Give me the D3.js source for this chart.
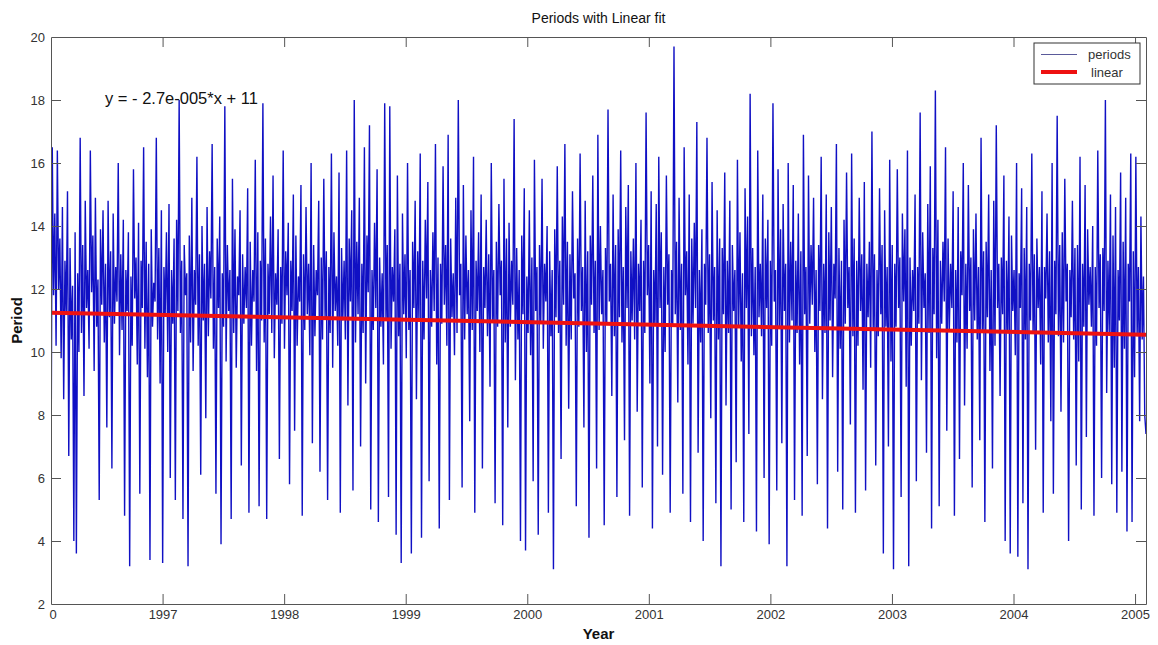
<!DOCTYPE html>
<html>
<head>
<meta charset="utf-8">
<script src="https://cdn.jsdelivr.net/npm/d3@7"></script>
<style>
  body { margin: 0; background: #fff; }
  text { font-family: "Liberation Sans", Arial, sans-serif; }
</style>
</head>
<body>
<script>
// period values left to right (evenly spaced in time)
var periods = [
  5.7,16.5,11.8,14.4,10.2,16.4,12.0,13.6,9.8,14.6,8.5,12.9,11.2,15.1,6.7,13.3,10.4,12.1,4.0,13.8,3.6,12.5,10.0,16.8,
  10.6,13.4,8.6,14.8,11.4,12.6,10.1,16.4,11.9,13.7,9.4,14.9,10.8,12.3,5.3,13.9,11.5,14.5,10.3,12.8,7.6,14.8,11.1,13.2,
  6.3,14.4,10.9,12.7,11.6,16.0,9.9,13.1,10.7,14.2,4.8,12.6,11.3,13.8,3.2,12.4,10.2,15.8,11.7,13.0,9.6,14.1,5.5,12.9,
  11.4,16.5,10.1,13.5,9.2,12.8,3.4,13.9,10.8,12.2,11.6,16.8,10.4,13.3,9.0,14.5,3.3,12.7,11.2,13.8,10.0,14.7,6.0,12.6,
  10.9,13.6,5.3,14.2,11.3,18.0,10.6,12.9,4.7,13.4,11.8,12.5,3.2,13.7,10.3,14.9,9.4,12.6,11.5,16.2,10.2,13.1,6.1,14.0,
  11.0,12.8,7.9,14.6,10.5,13.2,11.7,16.6,10.1,12.7,5.5,13.6,11.4,14.3,3.9,12.5,10.8,17.8,9.7,13.4,11.3,12.6,4.7,15.5,
  10.6,13.9,9.5,12.4,11.8,14.5,6.4,13.1,10.9,12.7,11.4,15.2,4.9,13.5,10.2,12.6,11.6,16.1,9.4,13.8,5.1,12.9,11.0,17.9,
  10.3,13.6,4.7,12.8,11.2,14.3,10.6,15.6,9.8,12.5,11.5,13.9,6.6,12.7,10.9,16.4,10.1,13.2,11.8,14.1,5.8,12.9,11.3,15.0,
  7.5,13.7,10.2,12.4,11.6,15.3,4.8,13.1,10.7,14.6,11.2,12.8,9.9,16.0,7.1,13.4,10.5,12.6,11.8,14.8,6.2,13.0,10.4,15.5,
  11.1,13.2,5.3,12.7,10.6,16.3,9.5,13.8,11.3,12.4,10.2,15.7,4.9,13.3,11.0,12.9,10.4,16.4,8.3,13.6,11.6,14.5,5.6,18.0,
  10.3,13.5,11.2,14.9,7.0,12.8,10.6,16.5,9.0,13.7,11.9,17.2,5.0,12.6,10.7,14.1,11.4,15.8,4.6,13.0,10.8,12.5,9.6,17.9,
  11.0,13.4,5.4,17.8,10.1,12.7,11.6,13.9,4.2,15.6,10.5,12.8,3.3,14.4,11.2,13.1,9.8,16.0,10.7,12.6,3.6,13.5,11.4,14.8,
  8.5,13.2,11.0,16.3,4.1,12.9,10.4,14.2,11.7,15.4,5.9,12.6,10.8,13.8,11.3,16.6,9.6,13.0,4.4,12.8,10.9,15.9,11.5,13.4,
  10.2,16.9,5.3,13.6,11.1,12.5,9.9,14.9,10.6,18.0,11.8,12.8,5.7,15.3,10.4,13.7,11.2,12.6,7.8,14.5,10.7,16.2,4.9,12.9,
  11.3,13.8,10.0,15.0,6.3,12.7,11.4,14.2,10.5,13.1,8.9,16.0,11.0,12.6,5.2,13.5,10.8,14.7,11.8,12.9,4.5,15.5,10.3,13.6,
  7.6,14.1,10.8,12.9,11.5,17.4,9.1,13.3,10.4,12.6,4.0,13.7,11.2,15.2,3.7,12.4,10.6,14.5,9.9,13.0,5.9,16.1,11.3,12.7,
  4.2,13.4,10.9,15.5,10.1,12.8,11.6,14.0,4.9,13.2,10.5,12.6,3.1,13.9,11.1,15.9,10.6,12.9,6.6,14.3,11.5,16.6,10.2,13.5,
  8.2,13.1,10.4,15.1,11.7,12.5,5.1,13.6,10.8,16.3,11.3,12.7,7.6,14.8,10.0,13.2,4.1,13.7,11.5,15.6,10.6,12.9,6.3,16.9,
  10.7,14.0,11.2,12.6,4.5,13.3,10.9,17.7,11.6,12.8,8.6,15.0,10.5,13.4,5.4,13.9,11.1,16.4,10.3,12.7,7.2,14.6,11.4,15.3,
  4.8,13.2,11.0,13.6,10.4,16.0,8.1,12.8,11.3,14.2,5.7,12.9,10.6,17.6,11.8,13.4,9.0,15.1,4.4,12.6,10.9,14.7,7.0,16.2,
  11.4,13.8,6.1,12.7,10.0,15.6,11.5,13.1,4.9,12.6,10.8,19.7,11.2,13.5,8.4,14.9,10.7,12.8,5.5,16.5,11.8,13.2,9.6,15.0,
  4.6,13.6,10.9,14.1,11.4,17.3,6.8,12.6,10.3,13.9,4.0,12.8,11.5,16.8,10.6,13.1,7.9,15.4,11.0,12.7,5.2,14.5,10.4,13.6,
  3.2,13.3,11.2,15.7,8.3,12.9,10.6,14.8,5.0,13.4,11.3,12.6,6.5,16.1,10.8,13.8,9.7,12.5,4.6,15.2,11.4,14.3,7.4,18.2,
  10.5,13.3,9.9,12.7,4.3,16.4,11.1,12.8,10.5,15.0,6.0,13.6,11.4,14.2,3.9,12.9,10.2,17.9,11.6,12.6,5.6,15.8,10.8,13.9,
  7.1,14.7,11.3,12.8,3.2,16.0,10.3,13.5,11.0,15.3,5.3,12.9,10.6,14.4,9.6,13.2,4.8,16.9,11.2,12.7,6.7,15.6,10.9,13.4,
  11.5,14.9,10.0,12.6,5.8,13.4,11.3,16.2,8.5,12.8,10.6,15.0,4.4,13.8,11.0,14.6,9.2,12.8,11.7,16.6,6.2,13.3,10.1,12.9,
  5.0,14.2,10.9,15.7,11.4,12.7,7.7,16.3,10.5,13.6,4.9,12.9,10.2,14.9,11.3,13.1,8.8,15.4,5.6,12.8,11.1,13.5,9.5,17.0,
  10.7,13.1,6.4,12.6,10.5,15.2,11.2,13.4,3.6,14.5,10.8,12.7,7.0,16.1,9.7,13.4,3.1,12.8,10.8,15.8,11.4,13.0,5.4,14.4,
  11.6,13.9,8.9,16.4,3.2,13.0,10.2,12.6,11.3,15.0,5.9,12.7,10.9,17.6,9.1,13.8,11.4,12.5,6.8,14.7,10.6,15.9,4.4,13.3,
  11.2,18.3,9.8,14.2,5.1,12.9,10.9,13.5,11.6,16.5,7.5,13.6,10.7,12.8,11.4,15.1,4.8,12.6,10.3,14.6,6.6,13.2,11.8,16.0,
  8.3,12.8,10.1,15.3,11.3,13.0,5.7,13.9,11.0,14.4,10.4,12.7,7.2,16.8,10.6,13.2,4.6,13.5,11.1,15.0,9.4,12.6,6.3,14.8,
  10.2,17.2,11.4,12.8,8.6,13.0,11.2,15.6,4.0,12.9,10.7,14.3,3.6,13.7,11.3,12.6,9.9,16.0,3.5,12.5,11.4,15.2,5.2,13.3,
  10.4,14.6,3.1,12.8,11.0,16.3,10.6,13.1,6.9,13.6,11.4,12.7,9.6,15.1,4.9,12.7,11.7,14.4,10.3,13.2,7.8,16.0,5.5,12.9,
  11.2,17.5,10.5,13.4,8.1,13.8,10.3,15.5,11.6,12.8,4.0,12.6,11.1,14.8,10.4,13.3,6.4,13.4,9.7,16.2,5.0,12.8,10.8,15.3,
  7.3,13.9,11.5,12.7,10.8,14.0,4.8,12.7,10.2,16.4,11.4,13.1,6.0,13.3,11.3,18.0,8.7,12.9,10.6,15.0,5.8,13.7,9.5,14.6,
  4.9,12.6,11.0,15.7,6.2,13.5,10.1,14.9,4.3,12.8,11.6,16.3,4.6,13.2,9.2,16.2,10.5,12.7,7.8,14.3,10.4,12.4,8.0,7.4
];

// time span of the series (years) and the linear fit at both ends
var timeSpan = [1996.082, 2005.09];
var linearFit = [11.25, 10.55];

var xTicks = [1996.082, 1997, 1998, 1999, 2000, 2001, 2002, 2003, 2004, 2005];
var xTickLabels = ["0", "1997", "1998", "1999", "2000", "2001", "2002", "2003", "2004", "2005"];
var yTicks = [2, 4, 6, 8, 10, 12, 14, 16, 18, 20];

var width = 1158, height = 645;
var margin = {top: 37, right: 12, bottom: 41, left: 51};
var innerW = width - margin.left - margin.right;
var innerH = height - margin.top - margin.bottom;

var svg = d3.select("body").append("svg")
    .attr("width", width)
    .attr("height", height);

var g = svg.append("g")
    .attr("transform", "translate(" + margin.left + "," + margin.top + ")");

var x = d3.scaleLinear().domain(timeSpan).range([0, innerW]);
var y = d3.scaleLinear().domain([2, 20]).range([innerH, 0]);

var step = (timeSpan[1] - timeSpan[0]) / (periods.length - 1);

g.append("clipPath").attr("id", "clip")
  .append("rect").attr("width", innerW).attr("height", innerH);

var plot = g.append("g").attr("clip-path", "url(#clip)");

var line = d3.line()
    .x(function(d, i) { return x(timeSpan[0] + i * step); })
    .y(function(d) { return y(d); });

plot.append("path")
    .datum(periods)
    .attr("fill", "none")
    .attr("stroke", "#1010c4")
    .attr("stroke-width", 1.4)
    .attr("d", line);

plot.append("line")
    .attr("x1", x(timeSpan[0])).attr("y1", y(linearFit[0]))
    .attr("x2", x(timeSpan[1])).attr("y2", y(linearFit[1]))
    .attr("stroke", "#ee1111")
    .attr("stroke-width", 4);

// axes, MATLAB style: ticks inside, box on all four sides
var axisColor = "#555";
var tickLen = 10;

var axBottom = g.append("g").attr("transform", "translate(0," + innerH + ")")
    .call(d3.axisBottom(x).tickValues(xTicks).tickSizeInner(-tickLen).tickSizeOuter(0)
      .tickPadding(6).tickFormat(function(d, i) { return xTickLabels[i]; }));
var axTop = g.append("g")
    .call(d3.axisTop(x).tickValues(xTicks).tickSizeInner(-tickLen).tickSizeOuter(0).tickFormat(""));
var axLeft = g.append("g")
    .call(d3.axisLeft(y).tickValues(yTicks).tickSizeInner(-tickLen).tickSizeOuter(0).tickPadding(6));
var axRight = g.append("g").attr("transform", "translate(" + innerW + ",0)")
    .call(d3.axisRight(y).tickValues(yTicks).tickSizeInner(-tickLen).tickSizeOuter(0).tickFormat(""));

[axBottom, axTop, axLeft, axRight].forEach(function(a) {
  a.select(".domain").attr("stroke", axisColor);
  a.selectAll(".tick line").attr("stroke", axisColor);
  a.selectAll(".tick text").attr("fill", "#333").style("font-size", "13px")
    .style("font-family", "'Liberation Sans', Arial, sans-serif");
});
// drop the tick marks that sit on the box corners
axBottom.selectAll(".tick line").filter(function(d) { return d === xTicks[0]; }).remove();
axTop.selectAll(".tick line").filter(function(d) { return d === xTicks[0]; }).remove();
axLeft.selectAll(".tick line").filter(function(d) { return d === 2 || d === 20; }).remove();
axRight.selectAll(".tick line").filter(function(d) { return d === 2 || d === 20; }).remove();
// MATLAB puts the x origin label right under the corner
axBottom.selectAll(".tick text").filter(function(d) { return d === xTicks[0]; })
    .attr("text-anchor", "start").attr("x", -2);

// title and labels
svg.append("text")
    .attr("x", margin.left + innerW / 2).attr("y", 23)
    .attr("text-anchor", "middle")
    .style("font-size", "14px").attr("fill", "#111")
    .text("Periods with Linear fit");

svg.append("text")
    .attr("x", margin.left + innerW / 2).attr("y", 639)
    .attr("text-anchor", "middle")
    .style("font-size", "15px").style("font-weight", "bold").attr("fill", "#111")
    .text("Year");

svg.append("text")
    .attr("transform", "translate(22," + (margin.top + innerH / 2) + ") rotate(-90)")
    .attr("text-anchor", "middle")
    .style("font-size", "15px").style("font-weight", "bold").attr("fill", "#111")
    .text("Period");

g.append("text")
    .attr("x", 54).attr("y", 67)
    .style("font-size", "16.5px").attr("fill", "#111")
    .text("y = - 2.7e-005*x + 11");

// legend
var legend = svg.append("g").attr("transform", "translate(1034,43)");
legend.append("rect")
    .attr("width", 106).attr("height", 41)
    .attr("fill", "#fff").attr("stroke", "#333").attr("stroke-width", 1);
legend.append("line")
    .attr("x1", 7).attr("x2", 43).attr("y1", 11.5).attr("y2", 11.5)
    .attr("stroke", "#5a5a9a").attr("stroke-width", 1);
legend.append("line")
    .attr("x1", 7).attr("x2", 43).attr("y1", 29).attr("y2", 29)
    .attr("stroke", "#ee1111").attr("stroke-width", 4);
legend.append("text").attr("x", 54).attr("y", 16)
    .style("font-size", "13px").attr("fill", "#333").text("periods");
legend.append("text").attr("x", 57).attr("y", 34)
    .style("font-size", "13px").attr("fill", "#333").text("linear");
</script>
</body>
</html>
